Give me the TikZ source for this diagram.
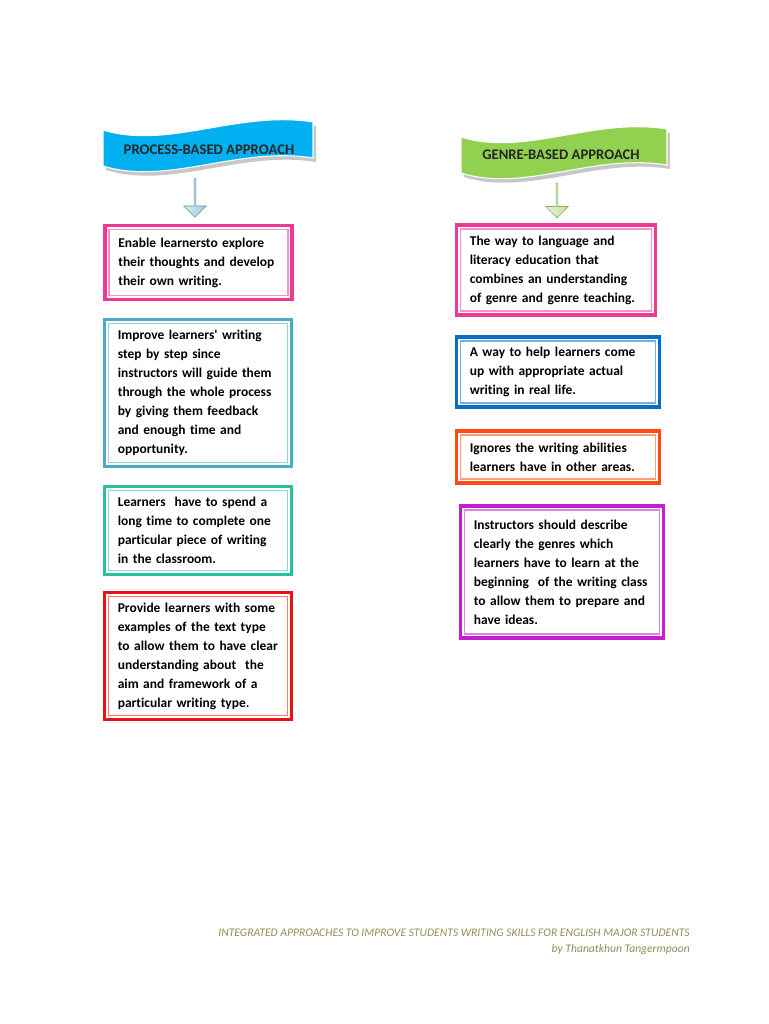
\documentclass[tikz,border=0pt]{standalone}
\usepackage{fontspec}
\setmainfont{Carlito}[Ligatures=NoCommon]
\usetikzlibrary{shapes.arrows}
\definecolor{rosebox}{HTML}{EE3A97}
\definecolor{aquabox}{HTML}{4BACC6}
\definecolor{tealbox}{HTML}{26C29E}
\definecolor{redbox}{HTML}{EE1111}
\definecolor{bluebox}{HTML}{0A6FC2}
\definecolor{orangebox}{HTML}{FF4A14}
\definecolor{violetbox}{HTML}{C71BD0}
\definecolor{procblue}{HTML}{00B0F0}
\definecolor{genregreen}{HTML}{92D050}
\definecolor{footerolive}{HTML}{958B55}
\tikzstyle{infobox} = [draw, rectangle, line width=2.5pt, outer sep=0pt,
    inner xsep=10pt, inner ysep=3pt, align=left,
    font=\bfseries\fontsize{10.1}{14.25}\selectfont]
\tikzstyle{bannertext} = [text=black!85, inner sep=0pt,
    font=\bfseries\fontsize{11}{12}\selectfont]
\tikzstyle{downarrow} = [single arrow, shape border rotate=270, inner sep=0pt,
    minimum width=17pt, single arrow head extend=3pt, line width=0.5pt]
\tikzstyle{footer} = [text=footerolive, inner sep=0pt, align=right,
    font=\itshape\fontsize{8.7}{12}\selectfont]

\begin{document}
\begin{tikzpicture}[x=0.75pt,y=-0.75pt]
\useasboundingbox (0,0) rectangle (768,1024);

% wavy title banners
\foreach \bx/\by/\bw/\bc in {103/130/210/procblue, 461/137/206/genregreen}{
  \begin{scope}[shift={(\bx,\by)}, xscale=\bw/210]
    \fill[black!22] (3,4) .. controls (68,24) and (138,-16) .. (213,-4)
      -- (213,32) .. controls (138,20) and (68,60) .. (3,40) -- cycle;
    \filldraw[fill=\bc, draw=white, line width=0.8pt] (0,0) .. controls (65,20) and (135,-20) .. (210,-8)
      -- (210,28) .. controls (135,16) and (65,56) .. (0,36) -- cycle;
  \end{scope}
}
\node[bannertext] (procban) at (209,150) {PROCESS-BASED APPROACH};
\node[bannertext] (genreban) at (561,155) {GENRE-BASED APPROACH};

% arrows under the banners
\node[downarrow, minimum height=29pt, draw=aquabox!55!gray, left color=aquabox!22, right color=aquabox!60] (procarrow) at (195,197.5) {};
\node[downarrow, minimum height=26pt, draw=genregreen!60!gray, left color=genregreen!22, right color=genregreen!60] (genrearrow) at (557,200) {};

% process-based column
\node[infobox, draw=rosebox, text width=120.25pt, minimum height=55.5pt] (proc1) at (198.5,262.5)
  {Enable learnersto explore\\their thoughts and develop\\their own writing.};
\node[infobox, draw=aquabox, text width=120.25pt, minimum height=110.25pt] (proc2) at (198,393)
  {Improve learners\textquotesingle\ writing\\step by step since\\instructors will guide them\\through the whole process\\by giving them feedback\\and enough time and\\opportunity.};
\node[infobox, draw=tealbox, text width=120.25pt, minimum height=66pt] (proc3) at (198,530.5)
  {Learners\ \ have to spend a\\long time to complete one\\particular piece of writing\\in the classroom.};
\node[infobox, draw=redbox, text width=120.25pt, minimum height=95.25pt] (proc4) at (198,656)
  {Provide learners with some\\examples of the text type\\to allow them to have clear\\understanding about\ \ the\\aim and framework of a\\particular writing type.};

% genre-based column
\node[infobox, draw=rosebox, text width=129.25pt, minimum height=67.5pt] (genre1) at (556,270)
  {The way to language and\\literacy education that\\combines an understanding\\of genre and genre teaching.};
\node[infobox, draw=bluebox, text width=132.25pt, minimum height=52.5pt] (genre2) at (558,372)
  {A way to help learners come\\up with appropriate actual\\writing in real life.};
\node[infobox, draw=orangebox, text width=132.25pt, minimum height=39pt] (genre3) at (558,457)
  {Ignores the writing abilities\\learners have in other areas.};
\node[infobox, draw=violetbox, text width=132.25pt, minimum height=99pt] (genre4) at (562,572)
  {Instructors should describe\\clearly the genres which\\learners have to learn at the\\beginning\ \ of the writing class\\to allow them to prepare and\\have ideas.};

% thin inner frames
\foreach \n/\c in {proc1/rosebox, proc2/aquabox, proc3/tealbox, proc4/redbox,
                   genre1/rosebox, genre2/bluebox, genre3/orangebox, genre4/violetbox}
  \draw[\c!55, line width=0.9pt] ([shift={(3pt,-3pt)}]\n.north west) rectangle ([shift={(-3pt,3pt)}]\n.south east);

\node[footer, anchor=east] (credit) at (690,942)
  {INTEGRATED APPROACHES TO IMPROVE STUDENTS WRITING SKILLS FOR ENGLISH MAJOR STUDENTS\\by Thanatkhun Tangermpoon};
\end{tikzpicture}
\end{document}
